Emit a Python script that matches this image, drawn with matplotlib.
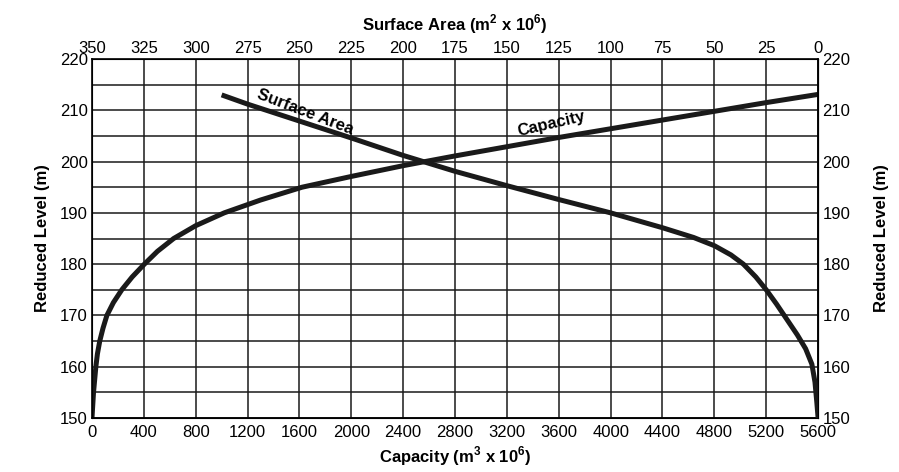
import numpy as np
import matplotlib
matplotlib.use("Agg")
import matplotlib.pyplot as plt

plt.rcParams['font.family'] = ['Liberation Sans', 'DejaVu Sans']
plt.rcParams['mathtext.fontset'] = 'custom'
plt.rcParams['mathtext.rm'] = 'Liberation Sans'
plt.rcParams['mathtext.bf'] = 'Liberation Sans:bold'

# capacity curve (m3 x 10^6) vs reduced level (m)
cap_vals = [0, 12, 30, 42, 60, 85, 115, 165, 230, 310, 404, 505, 630, 800, 1020, 1300,
            1620, 2000, 2400, 2800, 3200, 3600, 4000, 4400, 4800, 5200, 5600]
cap_levels = [150, 155, 160, 162.5, 165, 167.5, 170, 172.5, 175, 177.5, 180, 182.5, 185, 187.5, 190, 192.5,
              195, 197.1, 199.2, 201.1, 202.9, 204.7, 206.4, 208.1, 209.8, 211.5, 213.1]

# surface area curve (m2 x 10^6) vs reduced level (m)
area_vals = [287.5, 275, 250, 225, 200, 175, 150, 125, 100, 75, 60, 50, 42, 36,
             30, 25, 20, 15, 10, 6, 3, 1.5, 0.6, 0]
area_levels = [213.0, 211.2, 207.9, 204.6, 201.2, 198.1, 195.3, 192.6, 190.0, 187.1, 185.2, 183.6, 181.8, 180.0,
               177.5, 175.0, 172.2, 169.2, 166.2, 163.5, 160.5, 157.0, 153.0, 150.0]

cap_ticks = list(range(0, 5601, 400))
area_ticks = list(range(350, -1, -25))
level_ticks = list(range(150, 221, 10))

fig = plt.figure(figsize=(8.99, 4.72), dpi=100)
ax = fig.add_axes([0.1023, 0.1144, 0.8077, 0.7606])

ax.set_xlim(0, 5600)
ax.set_ylim(150, 220)
ax.set_xticks(cap_ticks)
ax.set_yticks(level_ticks)
ax.set_yticks(np.arange(155, 220, 10), minor=True)
ax.grid(True, which='both', color='#1a1a1a', linewidth=1.1)
ax.tick_params(axis='both', which='both', length=0, labelsize=12)
ax.tick_params(axis='x', pad=5)
ax.tick_params(axis='y', labelright=True, pad=3)
for sp in ax.spines.values():
    sp.set_linewidth(1.2)

ax.plot(cap_vals, cap_levels, color='#1a1a1a', linewidth=3.6, solid_capstyle='butt')
ax.set_xlabel(r'Capacity (m$^{\mathbf{3}}$ x 10$^{\mathbf{6}}$)', fontsize=12, fontweight='bold', labelpad=3)
ax.set_ylabel('Reduced Level (m)', fontsize=12, fontweight='bold', labelpad=7)

ax_r = ax.secondary_yaxis('right')
ax_r.set_yticks([])
ax_r.set_ylabel('Reduced Level (m)', fontsize=12, fontweight='bold', labelpad=40)

ax_top = ax.twiny()
ax_top.set_xlim(350, 0)
ax_top.set_xticks(area_ticks)
ax_top.tick_params(axis='x', length=0, labelsize=12, pad=2)
ax_top.plot(area_vals, area_levels, color='#1a1a1a', linewidth=3.6, solid_capstyle='butt')
ax_top.set_xlabel(r'Surface Area (m$^{\mathbf{2}}$ x 10$^{\mathbf{6}}$)', fontsize=12, fontweight='bold', labelpad=8)

ax_top.text(247, 209.6, 'Surface Area', rotation=-21, fontsize=12, fontweight='bold',
            ha='center', va='center', rotation_mode='anchor')
ax.text(3540, 207.3, 'Capacity', rotation=13, fontsize=12, fontweight='bold',
        ha='center', va='center', rotation_mode='anchor')

fig.savefig('out.png', dpi=100)
